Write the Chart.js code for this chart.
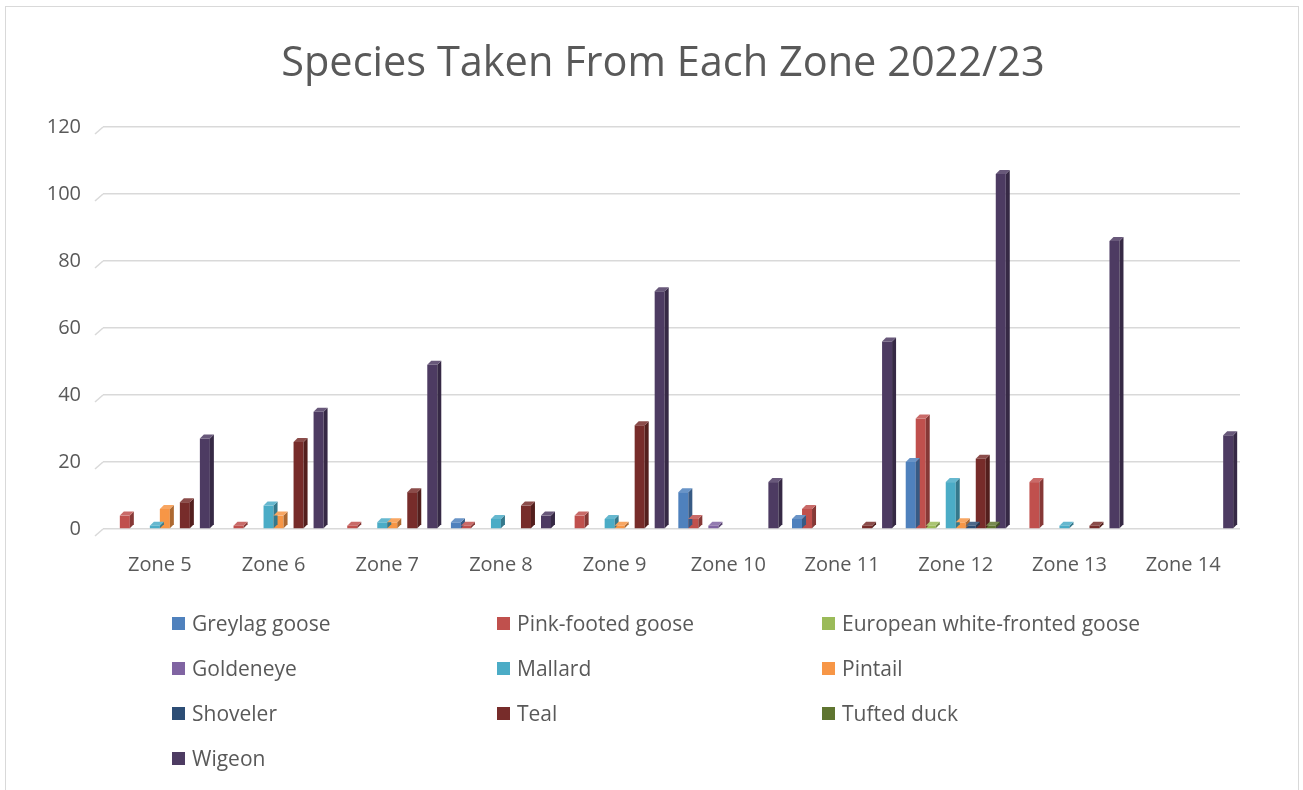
<!DOCTYPE html>
<html>
<head>
<meta charset="utf-8">
<script src="https://cdn.jsdelivr.net/npm/chart.js@4"></script>
<style>
  body { margin: 0; background: #fff; font-family: "Open Sans", sans-serif; }
  #wrap { position: relative; width: 1303px; height: 790px; overflow: hidden; }
  #frame { position: absolute; left: 5px; top: 6px; width: 1294px; height: 800px; border: 1px solid #d9d9d9; box-sizing: border-box; }
  #title { position: absolute; left: 0; width: 1326px; top: 32px; text-align: center; font-size: 41.5px; color: #595959; line-height: 56px; white-space: nowrap; }
  #legend { position: absolute; left: 172px; top: 609px; display: grid; grid-template-columns: 325px 325px 325px; grid-auto-rows: 45px; }
  .item { display: flex; align-items: center; height: 28px; font-size: 21px; color: #595959; white-space: nowrap; }
  .item span.box { width: 13px; height: 13px; margin-right: 7px; display: inline-block; }
</style>
</head>
<body>
<div id="wrap">
  <div id="frame"></div>
  <canvas id="grafico"></canvas>
  <div id="title">Species Taken From Each Zone 2022/23</div>
  <div id="legend"></div>
</div>
<script>
const zones = ['Zone 5', 'Zone 6', 'Zone 7', 'Zone 8', 'Zone 9', 'Zone 10', 'Zone 11', 'Zone 12', 'Zone 13', 'Zone 14'];
const yTicks = [0, 20, 40, 60, 80, 100, 120];

const greylag   = [null, null, null, 2, null, 11, 3, 20, null, null];
const pinkFoot  = [4, 1, 1, 1, 4, 3, 6, 33, 14, null];
const whiteFront = [null, null, null, null, null, null, null, 1, null, null];
const goldeneye = [null, null, null, null, null, 1, null, null, null, null];
const mallard   = [1, 7, 2, 3, 3, null, null, 14, 1, null];
const pintail   = [6, 4, 2, null, 1, null, null, 2, null, null];
const shoveler  = [null, null, null, null, null, null, null, 1, null, null];
const teal      = [8, 26, 11, 7, 31, null, 1, 21, 1, null];
const tufted    = [null, null, null, null, null, null, null, 1, null, null];
const wigeon    = [27, 35, 49, 4, 71, 14, 56, 106, 86, 28];

const species = [
    ['Greylag goose', greylag, '#4F81BD'],
    ['Pink-footed goose', pinkFoot, '#C0504D'],
    ['European white-fronted goose', whiteFront, '#9BBB59'],
    ['Goldeneye', goldeneye, '#8064A2'],
    ['Mallard', mallard, '#4BACC6'],
    ['Pintail', pintail, '#F79646'],
    ['Shoveler', shoveler, '#2C4D75'],
    ['Teal', teal, '#772C2A'],
    ['Tufted duck', tufted, '#5F7530'],
    ['Wigeon', wigeon, '#4D3B62']
];

// shade a hex colour, f < 0 darker, f > 0 lighter
const shade = (hex, f) => {
    const n = parseInt(hex.slice(1), 16);
    let r = n >> 16, g = (n >> 8) & 255, b = n & 255;
    const t = f < 0 ? 0 : 255, p = Math.abs(f);
    r = Math.round(r + (t - r) * p); g = Math.round(g + (t - g) * p); b = Math.round(b + (t - b) * p);
    return `rgb(${r},${g},${b})`;
};

// fake 3D: side and top faces on every bar, plus the floor stubs of the grid
const bars3d = {
    id: 'bars3d',
    beforeDatasetsDraw(chart) {
        const { ctx, chartArea, scales } = chart;
        ctx.save();
        ctx.strokeStyle = '#d9d9d9';
        ctx.lineWidth = 1.5;
        yTicks.forEach(v => {
            const y = scales.y.getPixelForValue(v);
            ctx.beginPath();
            ctx.moveTo(chartArea.left - 8, y + 7);
            ctx.lineTo(chartArea.left, y);
            ctx.stroke();
        });
        ctx.restore();
    },
    afterDatasetsDraw(chart) {
        const ctx = chart.ctx;
        const d = 4;
        ctx.save();
        chart.data.datasets.forEach((ds, i) => {
            chart.getDatasetMeta(i).data.forEach((bar, j) => {
                if (ds.data[j] == null) return;
                const { x, y, base, width } = bar.getProps(['x', 'y', 'base', 'width'], true);
                const l = x - width / 2, r = x + width / 2;
                ctx.fillStyle = shade(ds.backgroundColor, -0.3);
                ctx.beginPath();
                ctx.moveTo(r, y); ctx.lineTo(r + d, y - d); ctx.lineTo(r + d, base - d); ctx.lineTo(r, base);
                ctx.closePath(); ctx.fill();
                ctx.fillStyle = shade(ds.backgroundColor, 0.15);
                ctx.beginPath();
                ctx.moveTo(l, y); ctx.lineTo(l + d, y - d); ctx.lineTo(r + d, y - d); ctx.lineTo(r, y);
                ctx.closePath(); ctx.fill();
            });
        });
        ctx.restore();
    }
};

const canvas = document.getElementById('grafico');
canvas.width = 1303; canvas.height = 790;

const chart = new Chart(canvas, {
    type: 'bar',
    data: {
        labels: zones,
        datasets: species.map(([name, values, color]) => ({
            label: name,
            data: values,
            backgroundColor: color,
            borderWidth: 0,
            barPercentage: 1,
            categoryPercentage: 0.88
        }))
    },
    options: {
        responsive: false,
        animation: false,
        layout: { padding: { left: 0, right: 63, top: 127, bottom: 200 } },
        plugins: {
            legend: { display: false },
            tooltip: { enabled: false },
            title: { display: false }
        },
        scales: {
            x: {
                grid: { display: false },
                border: { display: false },
                ticks: { color: '#595959', font: { family: 'Open Sans', size: 20 }, padding: 16 },
                afterFit: s => { s.height = 61; }
            },
            y: {
                min: 0,
                max: 120,
                afterBuildTicks: s => { s.ticks = yTicks.map(v => ({ value: v })); },
                grid: { color: '#d9d9d9', lineWidth: 1.5, drawTicks: false },
                border: { display: false },
                ticks: { color: '#595959', font: { family: 'Open Sans', size: 20 }, padding: 22 },
                afterFit: s => { s.width = 103; }
            }
        }
    },
    plugins: [bars3d]
});

// legend laid out in three columns like the original
const legend = document.getElementById('legend');
chart.data.datasets.forEach(ds => {
    const item = document.createElement('div');
    item.className = 'item';
    item.innerHTML = `<span class="box" style="background:${ds.backgroundColor}"></span>${ds.label}`;
    legend.appendChild(item);
});
</script>
</body>
</html>
